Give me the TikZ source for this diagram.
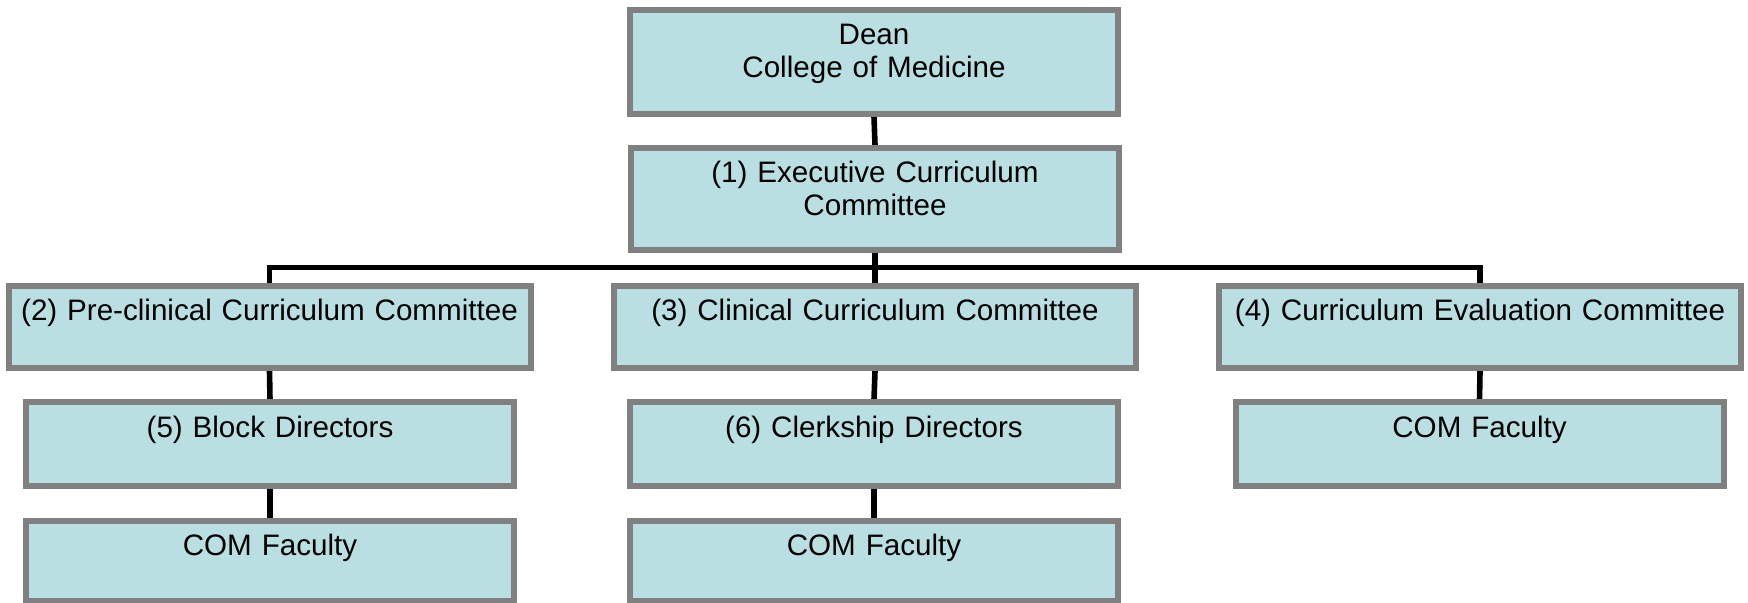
\documentclass[tikz,border=0pt]{standalone}
\usepackage{fontspec}
\setmainfont{Liberation Sans}
\usetikzlibrary{backgrounds}

\definecolor{boxfill}{RGB}{186,223,226}
\definecolor{boxline}{RGB}{128,128,128}

\tikzset{
  unit/.style={draw=boxline, fill=boxfill, line width=3pt, anchor=north,
    inner sep=0pt, align=center, text height=17.5pt,
    font=\fontsize{14.8}{16.5}\selectfont},
  wide/.style={unit, text width=261pt, text depth=23.5pt},
  narrow/.style={unit, text width=244pt, text depth=#1},
  narrow/.default=24pt,
  link/.style={line width=2.8pt, black}
}

\begin{document}
\begin{tikzpicture}[x=0.5pt,y=-0.5pt]
          \useasboundingbox (0,0) rectangle (1748,603);

          % dean and executive committee
          \node[narrow=34.5pt] (dean) at (874,7) {Dean\\College of Medicine};
          \node[narrow=33.5pt] (ecc) at (875,145) {(1) Executive Curriculum\\Committee};

          % the three committees
          \node[wide] (pcc) at (269.5,283) {(2) Pre-clinical Curriculum Committee};
          \node[wide] (ccc) at (875,283) {(3) Clinical Curriculum Committee};
          \node[wide] (cec) at (1480,283) {(4) Curriculum Evaluation Committee};

          % directors
          \node[narrow] (block) at (270,399.5) {(5) Block Directors};
          \node[narrow] (clerk) at (874,399.5) {(6) Clerkship Directors};

          % faculty
          \node[narrow] (facr) at (1479.5,399.5) {COM Faculty};
          \node[narrow=22.5pt] (facl) at (270,517.5) {COM Faculty};
          \node[narrow=22.5pt] (facm) at (874,517.5) {COM Faculty};

          \coordinate (bus) at (875,267.5);

          % reporting lines
          \begin{scope}[on background layer]
            \draw[link] (dean.south) -- (ecc.north);
            \draw[link] (ecc.south) -- (ccc.north);
            \draw[link] (pcc.north) |- (bus) -| (cec.north);
            \draw[link] (pcc.south) -- (block.north);
            \draw[link] (block.south) -- (facl.north);
            \draw[link] (ccc.south) -- (clerk.north);
            \draw[link] (clerk.south) -- (facm.north);
            \draw[link] (cec.south) -- (facr.north);
          \end{scope}
        \end{tikzpicture}
\end{document}
